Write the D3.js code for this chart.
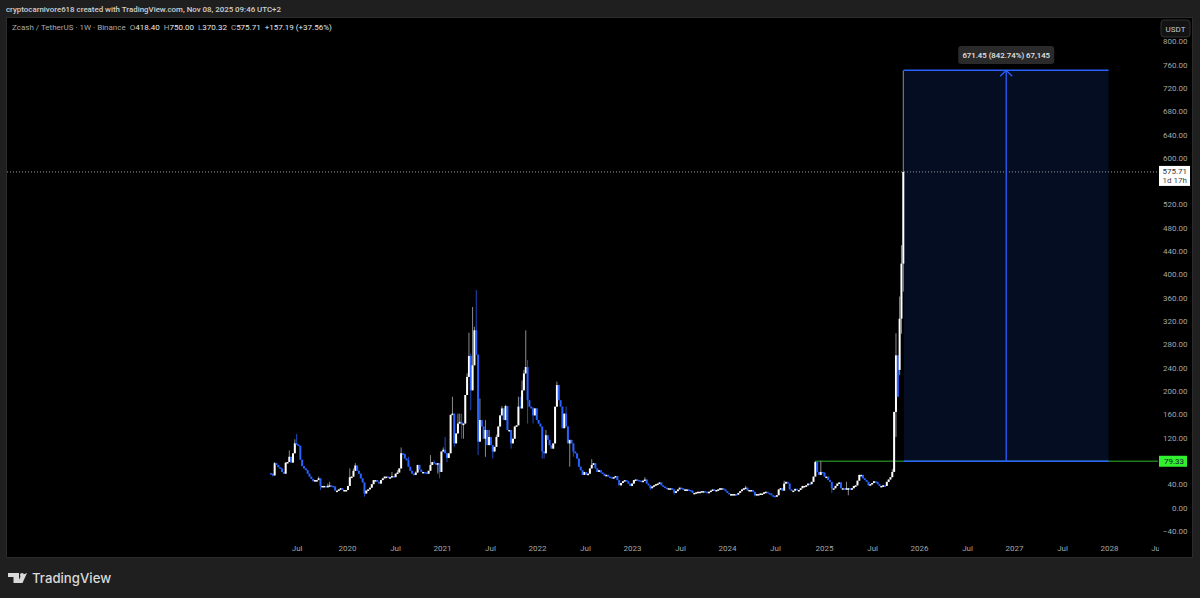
<!DOCTYPE html>
<html>
<head>
<meta charset="utf-8">
<script src="https://d3js.org/d3.v7.min.js"></script>
<style>
  html, body { margin: 0; padding: 0; background: #1f1f1f; overflow: hidden; }
  text { font-family: Roboto, "Open Sans", sans-serif; }
</style>
</head>
<body>
<svg id="chart" width="1200" height="598"></svg>
<script>
// weekly candles, week 0 is the first Binance bar
var closes = [
  58,55,76,73,69,67,61,58,77,78,87,77,93,110,108,106,82,71,67,64,58,53,49,45,47,47,50,37,37,37,36,37,38,37,36,29,29,31,33,30,30,30,
  37,52,53,63,72,63,58,50,43,24,29,31,34,40,47,47,44,41,47,50,53,53,52,52,54,52,58,60,67,93,92,84,81,70,63,58,56,60,73,65,61,61,60,58,63,73,78,76,74,76,61,96,
  99,93,85,93,159,161,110,127,144,147,143,144,193,224,260,201,244,304,262,113,150,139,118,133,107,121,107,96,104,121,139,158,170,150,174,133,133,110,118,139,141,173,170,201,230,241,184,173,170,158,170,150,
  144,139,96,93,124,116,107,101,110,173,210,184,173,136,161,139,110,116,110,96,93,84,70,64,56,61,56,58,67,73,76,67,61,64,60,58,54,56,53,52,51,52,54,47,38,42,45,47,45,41,37,41,47,48,47,
  46,45,46,48,41,38,33,36,38,40,41,43,38,36,34,33,33,33,31,25,28,31,34,33,30,31,31,30,29,25,25,26,27,27,28,28,27,26,27,29,31,30,30,31,33,33,31,28,25,23,23,23,23,22,25,28,31,33,34,29,30,30,27,21,23,23,24,24,26,27,25,24,21,20,18.5,21,31,33,29,41,44,41,31,29,29,32,30,30,
  33,37,37,38,41,40,44,53,78,61,56,61,60,53,53,47,44,33,33,37,41,43,33,33,32,33,33,31,33,37,38,46,56,56,50,47,44,38,40,42,45,44,40,37,37,38,37,44,48,52,61,
  164,261,190,324,418.4,575.71
];
var opens = [
  59,58,55,76,73,69,67,61,58,77,78,87,77,93,110,108,106,82,71,67,64,58,53,49,45,47,47,50,37,37,37,36,37,38,37,36,29,29,31,33,30,30,
  30,37,52,53,63,72,63,58,50,43,24,29,31,34,40,47,47,44,41,47,50,53,53,52,52,54,52,58,60,67,93,92,84,81,70,63,58,56,60,73,65,61,61,60,58,63,73,78,76,74,76,61,
  96,99,93,85,93,159,161,110,127,144,147,143,144,193,224,260,201,244,304,262,113,150,139,118,133,107,121,107,96,104,121,139,158,170,150,174,133,133,110,118,139,141,173,170,201,230,241,184,173,170,158,170,
  150,144,139,96,93,124,116,107,101,110,173,210,184,173,136,161,139,110,116,110,96,93,84,70,64,56,61,56,58,67,73,76,67,61,64,60,58,54,56,53,52,51,52,54,47,38,42,45,47,45,41,37,41,47,48,
  47,46,45,46,48,41,38,33,36,38,40,41,43,38,36,34,33,33,33,31,25,28,31,34,33,30,31,31,30,29,25,25,26,27,27,28,28,27,26,27,29,31,30,30,31,33,33,31,28,25,23,23,23,23,22,25,28,31,33,34,29,30,30,27,21,23,23,24,24,26,27,25,24,21,20,18.5,21,31,33,29,41,44,41,31,29,29,32,30,
  30,33,37,37,38,41,40,44,53,78,61,56,61,60,53,53,47,44,33,33,37,41,43,33,33,32,33,33,31,33,37,38,46,56,56,50,47,44,38,40,42,45,44,40,37,37,38,37,44,48,52,
  61,164,261,236,324,418.4
];
// only the wicks that show at this zoom
var highWeeks = [2,10,13,14,26,31,32,43,45,46,66,69,71,75,79,87,89,94,95,99,102,103,104,107,108,109,110,111,112,113,114,117,119,123,126,128,135,136,137,138,139,140,143,150,156,161,175,204,259,280,297,298,300,314,339,341,343,344,345];
var highPrices = [78,98,117,126,53,41,44,67,67,76,61,64,103,87,62,90,81,103,121,190,161,161,161,230,300,264,344,310,373,263,187,150,133,125,174,176,190,190,218,236,304,253,172,133,216,173,83,52,37,46,80,78,80,44,66,299,362,450,750];
var lowWeeks = [1,27,51,91,92,96,100,104,105,109,113,117,121,131,140,143,148,149,163,165,207,220,264,306,315,341,343,344,345];
var lowPrices = [53,30,18.5,58,50,78,104,118,118,167,90,87,84,101,144,144,84,84,70,87,30,22,19,25,21,121,227,298,370.32];

// 80 and 560 sit under the price labels in the original
var priceTicks = [-40,0,40,120,160,200,240,280,320,360,400,440,480,520,600,640,680,720,760,800];
var timeWeeks = [14,41.5,67.7,93.3,119.5,145.1,171.3,197,223.2,248.8,275,301.7,328,353.6,379.8,405.4,431.6,457.2,482.9];
var timeLabels = ['Jul','2020','Jul','2021','Jul','2022','Jul','2023','Jul','2024','Jul','2025','Jul','2026','Jul','2027','Jul','2028','Jul'];

var lastPrice = 575.71;
var boxBase = 79.33;
var boxTop = 750;
var boxWeeks = [345.3, 457];
var baseStartWeek = 297;
var headerParts = [
  ['Zcash / TetherUS \u00b7 1W \u00b7 Binance  ', '#a8a8a8'],
  ['O', '#a8a8a8'], ['418.40  ', '#e8e8e8'],
  ['H', '#a8a8a8'], ['750.00  ', '#e8e8e8'],
  ['L', '#a8a8a8'], ['370.32  ', '#e8e8e8'],
  ['C', '#a8a8a8'], ['575.71  ', '#e8e8e8'],
  ['+157.19 (+37.56%)', '#e8e8e8']
];

var upColor = '#ffffff', downColor = '#2962ff';
var upWick = '#8c8c8c', downWick = '#1f4bc0';
var labelSize = '8px';

var svg = d3.select('#chart');
var pane = { left: 7, top: 18, right: 1158, bottom: 558, edge: 1193 };

var x = d3.scaleLinear().domain([0, 345]).range([271, 903.3]);
var y = d3.scaleLinear().domain([0, 760]).range([507.5, 64.5]);

// pane
svg.append('rect').attr('width', 1200).attr('height', 598).attr('fill', '#1f1f1f');
svg.append('rect')
  .attr('x', pane.left - 0.5).attr('y', pane.top - 0.5)
  .attr('width', pane.edge - pane.left).attr('height', pane.bottom - pane.top)
  .attr('fill', '#000').attr('stroke', '#2b2b2b');

svg.append('defs').append('clipPath').attr('id', 'plot')
  .append('rect').attr('x', pane.left).attr('y', pane.top)
  .attr('width', pane.right - pane.left).attr('height', pane.bottom - pane.top);

var plot = svg.append('g').attr('clip-path', 'url(#plot)');

// measure box
plot.append('rect')
  .attr('x', x(boxWeeks[0])).attr('y', y(boxTop))
  .attr('width', x(boxWeeks[1]) - x(boxWeeks[0]))
  .attr('height', y(boxBase) - y(boxTop))
  .attr('fill', '#050d23');

// base line, green outside the box
plot.append('line')
  .attr('x1', x(baseStartWeek)).attr('x2', pane.right)
  .attr('y1', y(boxBase)).attr('y2', y(boxBase))
  .attr('stroke', '#1f7a1f').attr('stroke-width', 1.5);

// last price line
plot.append('line')
  .attr('x1', pane.left).attr('x2', pane.right)
  .attr('y1', y(lastPrice)).attr('y2', y(lastPrice))
  .attr('stroke', '#9a9a9a').attr('stroke-width', 1).attr('stroke-dasharray', '1 2');

var midWeek = (boxWeeks[0] + boxWeeks[1]) / 2;
[boxTop, boxBase].forEach(function(p) {
  plot.append('line')
    .attr('x1', x(boxWeeks[0])).attr('x2', x(boxWeeks[1]))
    .attr('y1', y(p)).attr('y2', y(p))
    .attr('stroke', downColor).attr('stroke-width', 1.5);
});
plot.append('line')
  .attr('x1', x(midWeek)).attr('x2', x(midWeek))
  .attr('y1', y(boxBase)).attr('y2', y(boxTop))
  .attr('stroke', downColor).attr('stroke-width', 1.3);
plot.append('path')
  .attr('d', d3.line()([[x(midWeek) - 6, y(boxTop) + 6], [x(midWeek), y(boxTop)], [x(midWeek) + 6, y(boxTop) + 6]]))
  .attr('fill', 'none').attr('stroke', downColor).attr('stroke-width', 1.3);

// candles
var candles = closes.map(function(c, i) {
  var o = opens[i];
  var hi = highWeeks.indexOf(i), lo = lowWeeks.indexOf(i);
  return {
    week: i, open: o, close: c,
    high: hi >= 0 ? highPrices[hi] : Math.max(o, c),
    low: lo >= 0 ? lowPrices[lo] : Math.min(o, c)
  };
});

plot.append('g').selectAll('line').data(candles).enter().append('line')
  .attr('x1', function(d) { return x(d.week); })
  .attr('x2', function(d) { return x(d.week); })
  .attr('y1', function(d) { return y(d.high); })
  .attr('y2', function(d) { return y(d.low); })
  .attr('stroke', function(d) { return d.close >= d.open ? upWick : downWick; })
  .attr('stroke-width', 1);

plot.append('g').selectAll('rect').data(candles).enter().append('rect')
  .attr('x', function(d) { return x(d.week) - 1; })
  .attr('width', 2)
  .attr('y', function(d) { return y(Math.max(d.open, d.close)); })
  .attr('height', function(d) { return Math.max(1.5, Math.abs(y(d.open) - y(d.close))); })
  .attr('fill', function(d) { return d.close >= d.open ? upColor : downColor; });

// axes
var priceAxis = d3.axisRight(y).tickValues(priceTicks)
  .tickSize(0).tickPadding(0)
  .tickFormat(function(d) { return (d < 0 ? '\u2212' + Math.abs(d).toFixed(2) : d.toFixed(2)); });
var pa = svg.append('g').attr('transform', 'translate(1187.5,0)').call(priceAxis);
pa.select('.domain').remove();
pa.selectAll('text').attr('text-anchor', 'end').attr('fill', '#a6a6a6').style('font-size', labelSize).style('font-family', 'Roboto, sans-serif');

var timeAxis = d3.axisBottom(x).tickValues(timeWeeks)
  .tickSize(0).tickPadding(0)
  .tickFormat(function(d, i) { return timeLabels[i]; });
var ta = svg.append('g').attr('clip-path', 'url(#timeClip)').attr('transform', 'translate(0,545)').call(timeAxis);
svg.select('defs').append('clipPath').attr('id', 'timeClip')
  .append('rect').attr('x', pane.left).attr('y', -10).attr('width', 1159 - pane.left).attr('height', 30);
ta.select('.domain').remove();
ta.selectAll('text').attr('fill', '#a6a6a6').style('font-size', labelSize).style('font-family', 'Roboto, sans-serif');

// price labels
var lastY = y(lastPrice);
svg.append('rect').attr('x', 1159).attr('y', lastY - 6).attr('width', 31).attr('height', 20).attr('fill', '#fff');
svg.append('text').attr('x', 1187).attr('y', lastY + 2.5).attr('text-anchor', 'end').attr('fill', '#333').style('font-size', labelSize).text('575.71');
svg.append('text').attr('x', 1187).attr('y', lastY + 11.5).attr('text-anchor', 'end').attr('fill', '#444').style('font-size', labelSize).text('1d 17h');

var baseY = y(boxBase);
svg.append('rect').attr('x', 1159).attr('y', baseY - 5.5).attr('width', 28).attr('height', 11).attr('fill', '#33f02e');
svg.append('text').attr('x', 1184).attr('y', baseY + 3).attr('text-anchor', 'end').attr('fill', '#123').style('font-size', labelSize).text('79.33');

// currency button, hides the top of the 800 label
svg.append('rect').attr('x', 1158).attr('y', 19).attr('width', 34).attr('height', 20).attr('fill', '#000');
svg.append('rect').attr('x', 1161).attr('y', 20).attr('width', 29).attr('height', 17).attr('rx', 3)
  .attr('fill', '#131313').attr('stroke', '#333');
svg.append('text').attr('x', 1175.5).attr('y', 32).attr('text-anchor', 'middle').attr('fill', '#c8c8c8').style('font-size', labelSize).text('USDT');

// measure pill
svg.append('rect').attr('x', x(midWeek) - 48).attr('y', 46).attr('width', 96).attr('height', 18).attr('rx', 3).attr('fill', '#2a2a2a');
svg.append('text').attr('x', x(midWeek)).attr('y', 57.5).attr('text-anchor', 'middle').attr('fill', '#e6e6e6')
  .style('font-size', '7.8px').style('font-weight', 500).text('671.45 (842.74%) 67,145');

// header
svg.append('text').attr('x', 6).attr('y', 12).attr('fill', '#cfcfcf').style('font-size', '7.9px').style('font-weight', 500)
  .text('cryptocarnivore618 created with TradingView.com, Nov 08, 2025 09:46 UTC+2');
var title = svg.append('text').attr('x', 12).attr('y', 30).style('font-size', labelSize).attr('xml:space', 'preserve').style('white-space', 'pre');
headerParts.forEach(function(p) {
  title.append('tspan').attr('fill', p[1]).text(p[0]);
});

// logo
var logo = svg.append('g').attr('fill', '#d9d9d9');
logo.append('path').attr('d', 'M8 573H19V583H13.5V577H8Z');
logo.append('circle').attr('cx', 22).attr('cy', 575).attr('r', 2);
logo.append('path').attr('d', 'M27 573L22.5 583H17.5L21 575.5Z');
svg.append('text').attr('x', 32).attr('y', 583).attr('fill', '#d9d9d9').style('font-size', '13.2px').style('font-weight', 500).style('font-family', 'Inter, Roboto, sans-serif').text('TradingView');
</script>
</body>
</html>
